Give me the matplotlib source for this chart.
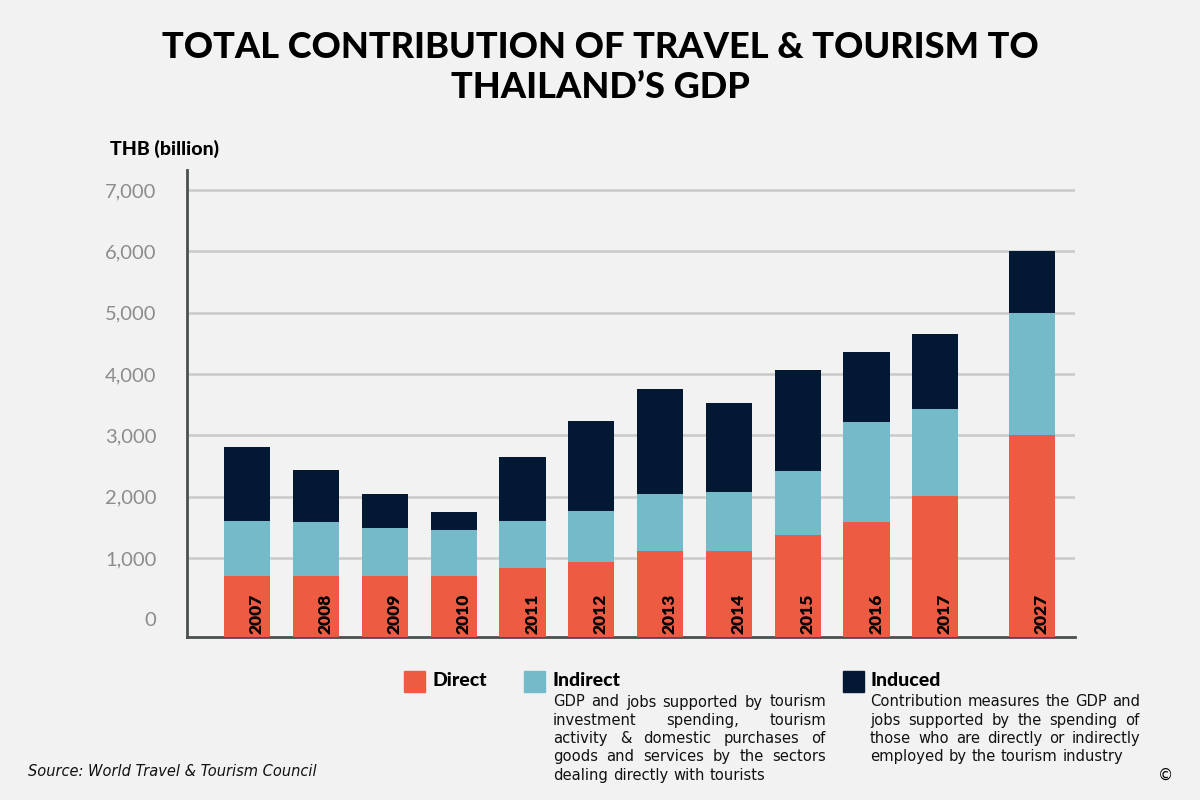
import numpy as np
import matplotlib.pyplot as plt

# Datos (THB billion)
years = ['2007', '2008', '2009', '2010', '2011', '2012', '2013', '2014',
         '2015', '2016', '2017', '2027']
direct = [700, 700, 700, 700, 830, 930, 1110, 1110, 1370, 1580, 2010, 3000]
indirect = [900, 885, 790, 760, 770, 830, 940, 970, 1050, 1640, 1425, 2000]
induced = [1215, 850, 550, 295, 1050, 1470, 1700, 1450, 1650, 1130, 1210, 1000]
yticks = [0, 1000, 2000, 3000, 4000, 5000, 6000, 7000]

c_direct = '#ec5b42'
c_indirect = '#75bac8'
c_induced = '#031833'
bg = '#f2f2f2'

W, H = 1200, 800
fig = plt.figure(figsize=(12, 8), dpi=100, facecolor=bg)
ax = fig.add_axes([187 / W, 1 - 637 / H, (1075 - 187) / W, (637 - 170) / H])
ax.set_facecolor(bg)

# posición de las barras (2027 separado)
xpos = np.array([0, 1, 2, 3, 4, 5, 6, 7, 8, 9, 10, 11.4])
floor = -290  # las barras arrancan bajo el "0" como en el original
width = 0.67

d = np.array(direct)
i = np.array(indirect)
n = np.array(induced)
ax.bar(xpos, d - floor, bottom=floor, width=width, color=c_direct, zorder=3)
ax.bar(xpos, i, bottom=d, width=width, color=c_indirect, zorder=3)
ax.bar(xpos, n, bottom=d + i, width=width, color=c_induced, zorder=3)

for xp, yr in zip(xpos, years):
    ax.text(xp + 0.14, floor + 55, yr, rotation=90, ha='center', va='bottom',
            fontsize=12.5, fontweight='heavy', family='Lato', color='black', zorder=4)

ax.set_xlim(-0.877, 12.03)
ax.set_ylim(floor, 7326)
ax.set_yticks(yticks)
ax.set_yticklabels([f'{v:,}' for v in yticks], family='Lato', fontweight='normal',
                   fontsize=14.5, color='#8c8c8c')
ax.tick_params(axis='y', length=0, pad=22)
ax.set_xticks([])
for v in yticks[1:]:
    ax.axhline(v, color='#c9c9c9', lw=1.8, zorder=1)
for s in ['top', 'right']:
    ax.spines[s].set_visible(False)
ax.spines['left'].set_color('#4a5050')
ax.spines['left'].set_linewidth(2)
ax.spines['bottom'].set_color('#4a5050')
ax.spines['bottom'].set_linewidth(2)


def px(x, y):
    return x / W, 1 - y / H


# Título
fig.text(*px(600, 48), 'TOTAL CONTRIBUTION OF TRAVEL & TOURISM TO', ha='center', va='center',
         fontsize=26, fontweight='black', family='Lato', color='black')
fig.text(*px(600, 88), 'THAILAND\u2019S GDP', ha='center', va='center',
         fontsize=26, fontweight='black', family='Lato', color='black')
fig.text(*px(110, 149), 'THB (billion)', ha='left', va='center',
         fontsize=14, fontweight='black', family='Lato', color='black')

# Leyenda
def square(x, y, color):
    fig.patches.append(plt.Rectangle(px(x, y + 21), 21 / W, 21 / H, color=color,
                                     transform=fig.transFigure, figure=fig))


square(404, 671, c_direct)
square(524, 671, c_indirect)
square(843, 671, c_induced)
fig.text(*px(433, 681), 'Direct', ha='left', va='center', fontsize=14,
         fontweight='black', family='Lato')
fig.text(*px(553, 681), 'Indirect', ha='left', va='center', fontsize=14,
         fontweight='black', family='Lato')
fig.text(*px(870, 681), 'Induced', ha='left', va='center', fontsize=14,
         fontweight='black', family='Lato')

renderer = fig.canvas.get_renderer()


def justified(x0, x1, y0, lines, step=18.3):
    for k, line in enumerate(lines):
        words = line.split()
        y = y0 + k * step
        objs = [fig.text(0, 0, w, fontsize=10.6, family='DejaVu Sans', color='#111111',
                         va='center', ha='left') for w in words]
        widths = [o.get_window_extent(renderer).width for o in objs]
        if k == len(lines) - 1 or len(words) == 1:
            gap = 5
        else:
            gap = (x1 - x0 - sum(widths)) / (len(words) - 1)
        x = x0
        for o, w in zip(objs, widths):
            o.set_position(px(x, y))
            x += w + gap


justified(553, 826, 702, ['GDP and jobs supported by tourism',
                          'investment spending, tourism',
                          'activity & domestic purchases of',
                          'goods and services by the sectors',
                          'dealing directly with tourists'])
justified(870, 1140, 702, ['Contribution measures the GDP and',
                           'jobs supported by the spending of',
                           'those who are directly or indirectly',
                           'employed by the tourism industry'])

fig.text(*px(28, 771), 'Source: World Travel & Tourism Council', ha='left', va='center',
         fontsize=10.5, style='italic', family='DejaVu Sans', color='#111111')
fig.text(*px(1166, 775), '\u00a9', ha='center', va='center', fontsize=11, color='black')

fig.savefig('out.png', dpi=100, facecolor=bg)
